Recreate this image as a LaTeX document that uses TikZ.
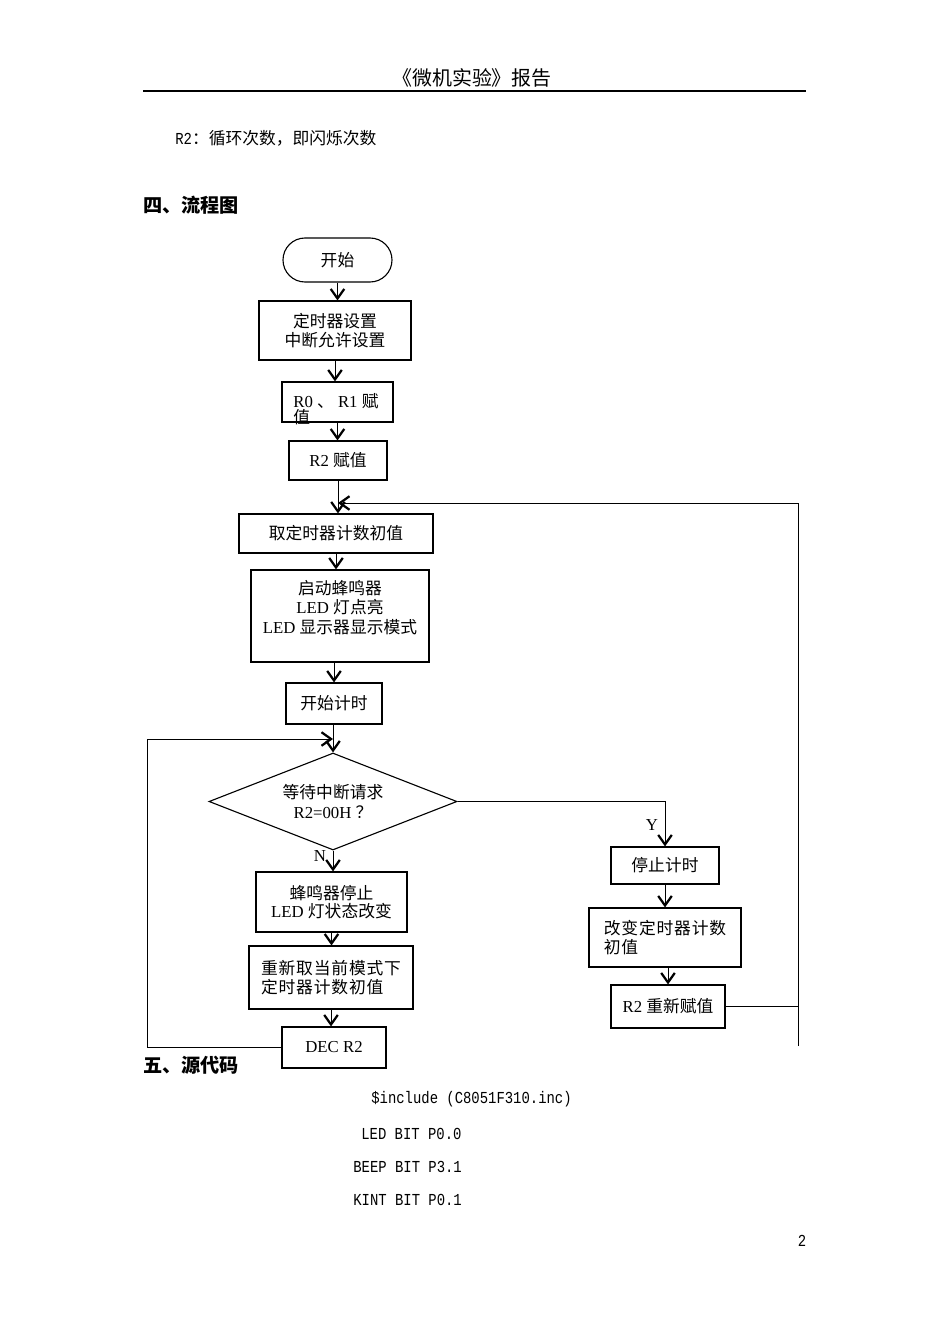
\documentclass[tikz,border=0pt]{standalone}
\usepackage{fontspec}
\setmainfont{Liberation Serif}
\newfontfamily\zhfont{Noto Sans CJK SC}
\newfontfamily\zhwide[LetterSpace=5]{Noto Sans CJK SC}
\newfontfamily\codefont[FakeStretch=0.83]{Liberation Mono}
\usetikzlibrary{arrows.meta,shapes.geometric,shapes.misc}
\newcommand\upx{0.6264pt}
\newcommand\zh[1]{{\zhfont #1}}
\tikzset{
	box/.style={draw,line width=0.7pt,inner sep=0pt,align=center,font=\fontsize{10.5}{12}\selectfont},
	sz/.style 2 args={minimum width=#1*\upx,minimum height=#2*\upx},
	txt/.style={inner sep=0pt,font=\fontsize{10.5}{12}\selectfont},
	arr/.style={line width=0.6pt,-{Straight Barb[length=6pt,width=8.5pt,line width=1.4pt]}},
	conn/.style={line width=0.6pt},
}

\begin{document}
\begin{tikzpicture}[x=\upx,y=-\upx]
		\useasboundingbox (0,0) rectangle (950,1344);
		\fill[white] (0,0) rectangle (950,1344);
		% page head
		\node[inner sep=0pt,font=\fontsize{12.5}{14}\selectfont\zhfont] (title) at (472,78) {《微机实验》报告};
		\draw[line width=0.9pt] (143,91) -- (806,91);
		\node[txt,anchor=west] (note) at (175,138) {{\codefont R2}\zh{：循环次数，即闪烁次数}};
		\node[anchor=west,inner sep=0pt,font=\fontsize{12}{14}\selectfont\zhfont\bfseries] (sec4) at (143,205) {四、流程图};
		% main column
		\node[box,rounded rectangle,sz={109}{44}] (start) at (337.5,260) {\zh{开始}};
		\node[box,sz={152}{59},font=\fontsize{10.5}{11.9}\selectfont] (b1) at (335,330.5) {\zh{定时器设置}\\\zh{中断允许设置}};
		\node[box,sz={111}{40}] (b2) at (337.5,402) {};
		\node[txt,anchor=west,align=left,font=\fontsize{10.5}{10}\selectfont] (t2) at (293,409) {R0 \zh{、} R1 \zh{赋}\\\zh{值}};
		\node[box,sz={98}{39}] (b3) at (338,460.5) {R2 \zh{赋值}};
		\node[box,sz={194}{39}] (b4) at (336,533.5) {\zh{取定时器计数初值}};
		\node[box,sz={178}{92}] (b5) at (340,616) {};
		\node[txt,align=center,font=\fontsize{10.5}{12.2}\selectfont] (t5) at (340,607.5) {\zh{启动蜂鸣器}\\LED \zh{灯点亮}\\LED \zh{显示器显示模式}};
		\node[box,sz={96}{41}] (b6) at (334,703.5) {\zh{开始计时}};
		\node[box,diamond,aspect=2.56,sz={248}{97}] (d) at (333,801.5) {\zh{等待中断请求}\\R2=00H \zh{？}};
		\node[box,sz={151}{60},font=\fontsize{10.5}{11.3}\selectfont] (b7) at (331.5,902) {\zh{蜂鸣器停止}\\LED \zh{灯状态改变}};
		\node[box,sz={164}{63},align=left,font=\fontsize{10.5}{11.9}\selectfont\zhwide] (b8) at (331,977.5) {重新取当前模式下\\定时器计数初值};
		\node[box,sz={104}{41}] (b9) at (334,1047.5) {DEC R2};
		% right column
		\node[box,sz={108}{37}] (b10) at (665,865.5) {\zh{停止计时}};
		\node[box,sz={152}{59},align=left,font=\fontsize{10.5}{11.9}\selectfont\zhwide] (b11) at (665,937.5) {改变定时器计数\\初值};
		\node[box,sz={114}{43}] (b12) at (668,1006.5) {R2 \zh{重新赋值}};
		\node[txt] (lN) at (320,856) {N};
		\node[txt] (lY) at (652,825) {Y};
		% loop corners
		\coordinate (rtop) at (798,503);
		\coordinate (rbot) at (798,1046);
		\coordinate (ltop) at (147,739);
		% connectors
		\draw[arr] (start.south) -- (start.south |- b1.north);
		\draw[arr] (b1.south) -- (b1.south |- b2.north);
		\draw[arr] (b2.south) -- (b2.south |- b3.north);
		\draw[arr] (b3.south) -- (b3.south |- b4.north);
		\draw[arr] (b4.south) -- (b4.south |- b5.north);
		\draw[arr] (b6.north |- b5.south) -- (b6.north);
		\draw[arr] (d.north |- b6.south) -- (d.north);
		\draw[arr] (d.south) -- (d.south |- b7.north);
		\draw[arr] (b7.south) -- (b7.south |- b8.north);
		\draw[arr] (b8.south) -- (b8.south |- b9.north);
		\draw[arr] (d.east) -- (d.east -| b10.north) -- (b10.north);
		\draw[arr] (b10.south) -- (b10.south |- b11.north);
		\draw[arr] (b12.north |- b11.south) -- (b12.north);
		\draw[conn] (b12.east) -- (b12.east -| rtop);
		\draw[conn] (rbot) -- (rtop);
		\draw[arr] (rtop) -- (rtop -| b3.south);
		\draw[arr] (b9.west) -- (b9.west -| ltop) -- (ltop) -- (ltop -| d.north);
		% source code
		\node[anchor=west,inner sep=0pt,font=\fontsize{12}{14}\selectfont\zhfont\bfseries] (sec5) at (143,1065) {五、源代码};
		\node[txt,anchor=west,font=\fontsize{10.5}{12}\selectfont\codefont] (c1) at (371,1099) {\$include (C8051F310.inc)};
		\node[txt,anchor=west,font=\fontsize{10.5}{12}\selectfont\codefont] (c2) at (361,1134) {LED BIT P0.0};
		\node[txt,anchor=west,font=\fontsize{10.5}{12}\selectfont\codefont] (c3) at (353,1167) {BEEP BIT P3.1};
		\node[txt,anchor=west,font=\fontsize{10.5}{12}\selectfont\codefont] (c4) at (353,1200) {KINT BIT P0.1};
		\node[txt,font=\fontsize{10.5}{12}\selectfont\codefont] (pg) at (802,1241) {2};
\end{tikzpicture}
\end{document}
